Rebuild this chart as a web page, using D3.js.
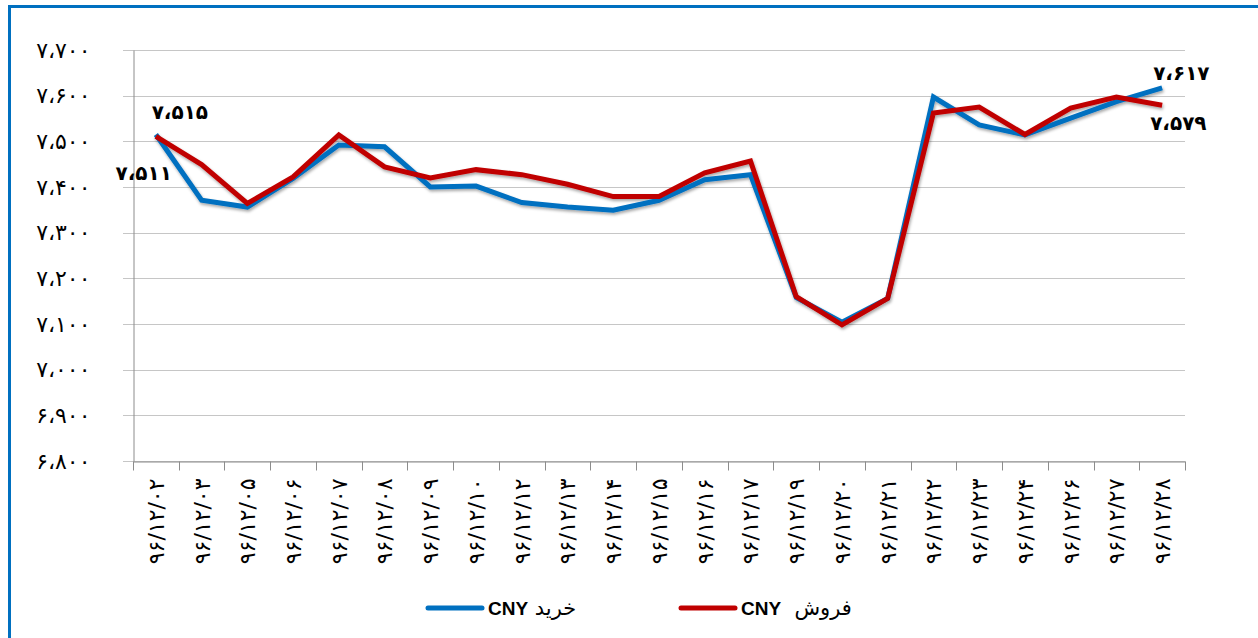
<!DOCTYPE html>
<html>
<head>
<meta charset="utf-8">
<script src="https://cdn.jsdelivr.net/npm/d3@7"></script>
<style>
  html, body { margin: 0; padding: 0; background: #fff; overflow: hidden; }
  svg { display: block; font-family: 'DejaVu Sans', sans-serif; }
</style>
</head>
<body>
<div class="container"></div>
<script>
// dates (Persian calendar) on the x axis
const DATES = ['96/12/02', '96/12/03', '96/12/05', '96/12/06', '96/12/07', '96/12/08', '96/12/09',
  '96/12/10', '96/12/12', '96/12/13', '96/12/14', '96/12/15', '96/12/16', '96/12/17',
  '96/12/19', '96/12/20', '96/12/21', '96/12/22', '96/12/23', '96/12/24', '96/12/26',
  '96/12/27', '96/12/28']

// خرید CNY (buy)
const BUY = [7515, 7371, 7356, 7419, 7492, 7488, 7400, 7402, 7366, 7356, 7349, 7371, 7416,
  7427, 7158, 7104, 7156, 7597, 7536, 7514, 7551, 7587, 7617]

// فروش CNY (sell)
const SELL = [7511, 7449, 7364, 7422, 7514, 7444, 7420, 7438, 7427, 7406, 7379, 7379, 7431,
  7457, 7160, 7098, 7156, 7562, 7575, 7515, 7573, 7597, 7579]

const Y_TICKS = [6800, 6900, 7000, 7100, 7200, 7300, 7400, 7500, 7600, 7700]

const SVG_WIDTH = 1258
const SVG_HEIGHT = 638
const PLOT = { LEFT: 133, RIGHT: 1185, TOP: 50, BOTTOM: 461 }
const BLUE = '#0070c0'
const RED = '#c00000'

const FA_DIGITS = '۰۱۲۳۴۵۶۷۸۹'
const toFa = s => String(s).replace(/[0-9]/g, c => FA_DIGITS[+c]).replace(/,/g, '،')
const fmt = v => toFa(d3.format(',')(v))

const svg = d3.select('.container')
  .append('svg')
  .attr('width', SVG_WIDTH)
  .attr('height', SVG_HEIGHT)

// soft shadow under the lines
const shadow = svg.append('defs').append('filter')
  .attr('id', 'shadow')
  .attr('x', '-5%').attr('y', '-5%').attr('width', '110%').attr('height', '120%')
shadow.append('feDropShadow')
  .attr('dx', 1).attr('dy', 2).attr('stdDeviation', 1.5)
  .attr('flood-color', '#000').attr('flood-opacity', 0.35)

// frame
svg.append('rect')
  .attr('x', 9.5).attr('y', 6.5)
  .attr('width', 1270).attr('height', 660)
  .attr('fill', 'none')
  .attr('stroke', BLUE)
  .attr('stroke-width', 3)

const x = d3.scaleBand()
  .domain(DATES)
  .range([PLOT.LEFT, PLOT.RIGHT])
  .padding(0)

const y = d3.scaleLinear()
  .domain([6800, 7700])
  .range([PLOT.BOTTOM, PLOT.TOP])

const cx = d => x(d) + x.bandwidth() / 2

// gridlines
svg.append('g')
  .selectAll('line')
  .data(Y_TICKS)
  .enter()
    .append('line')
    .attr('x1', PLOT.LEFT - 10)
    .attr('x2', PLOT.RIGHT)
    .attr('y1', d => Math.round(y(d)) + 0.5)
    .attr('y2', d => Math.round(y(d)) + 0.5)
    .attr('stroke', '#c6c6c6')
    .attr('stroke-width', 1)

// y axis
const yAxis = d3.axisLeft(y)
  .tickValues(Y_TICKS)
  .tickSize(0)
  .tickPadding(43)
  .tickFormat(fmt)

const yG = svg.append('g')
  .attr('transform', `translate(${PLOT.LEFT + 0.5}, 0)`)
  .call(yAxis)
yG.select('.domain').attr('stroke', '#8c8c8c')
yG.selectAll('text')
  .attr('font-size', '22px')
  .attr('font-family', 'DejaVu Sans')
  .attr('fill', '#000')

// x axis: ticks at band edges, labels at band centres
const xAxis = d3.axisBottom(x).tickSize(0).tickPadding(0).tickFormat(toFa)
const xG = svg.append('g')
  .attr('transform', `translate(0, ${PLOT.BOTTOM + 0.5})`)
  .call(xAxis)
xG.select('.domain').attr('stroke', '#8c8c8c')
xG.selectAll('text')
  .attr('transform', 'rotate(-90)')
  .attr('text-anchor', 'end')
  .attr('x', -17)
  .attr('y', 0)
  .attr('dy', '0.36em')
  .attr('font-size', '22px')
  .attr('font-family', 'DejaVu Sans')
  .attr('fill', '#000')

const edges = DATES.map(d => x(d)).concat([PLOT.RIGHT])
xG.selectAll('.edge')
  .data(edges)
  .enter()
    .append('line')
    .attr('class', 'edge')
    .attr('x1', d => Math.round(d) + 0.5)
    .attr('x2', d => Math.round(d) + 0.5)
    .attr('y1', 0)
    .attr('y2', 9)
    .attr('stroke', '#8c8c8c')

// lines
const line = d3.line()
  .x((d, i) => cx(DATES[i]))
  .y(d => y(d))

const series = [
  { name: 'buy', values: BUY, color: BLUE },
  { name: 'sell', values: SELL, color: RED },
]

svg.append('g')
  .attr('filter', 'url(#shadow)')
  .selectAll('path')
  .data(series)
  .enter()
    .append('path')
    .attr('d', d => line(d.values))
    .attr('fill', 'none')
    .attr('stroke', d => d.color)
    .attr('stroke-width', 5)
    .attr('stroke-linejoin', 'miter')

// data labels on first and last points
const last = DATES.length - 1
const labels = [
  { v: BUY[0], x: cx(DATES[0]) + 24, y: y(BUY[0]) - 15, anchor: 'middle' },
  { v: SELL[0], x: cx(DATES[0]) + 16, y: y(SELL[0]) + 44, anchor: 'end' },
  { v: BUY[last], x: cx(DATES[last]) - 9, y: y(BUY[last]) - 8, anchor: 'start' },
  { v: SELL[last], x: cx(DATES[last]) - 12, y: y(SELL[last]) + 25, anchor: 'start' },
]
svg.append('g')
  .selectAll('text')
  .data(labels)
  .enter()
    .append('text')
    .attr('x', d => d.x)
    .attr('y', d => d.y)
    .attr('text-anchor', d => d.anchor)
    .attr('font-size', '20px')
    .attr('font-weight', 'bold')
    .attr('fill', '#000')
    .text(d => fmt(d.v))

// legend
const legend = [
  { x: 428, color: BLUE, word: 'خرید', gap: ' ' },
  { x: 681, color: RED, word: 'فروش', gap: '  ' },
]
const lg = svg.append('g')
  .selectAll('g')
  .data(legend)
  .enter()
    .append('g')
    .attr('transform', d => `translate(${d.x}, 608)`)
lg.append('line')
  .attr('x1', 0).attr('x2', 54)
  .attr('stroke', d => d.color)
  .attr('stroke-width', 5)
  .attr('stroke-linecap', 'round')
const lt = lg.append('text')
  .attr('x', 60)
  .attr('y', 7)
  .attr('font-size', '19px')
  .attr('fill', '#000')
  .style('white-space', 'pre')
lt.append('tspan')
  .attr('font-family', 'Liberation Sans')
  .attr('font-weight', 'bold')
  .text('CNY')
lt.append('tspan')
  .attr('font-size', '21px')
  .text(d => d.gap + d.word)
</script>
</body>
</html>
